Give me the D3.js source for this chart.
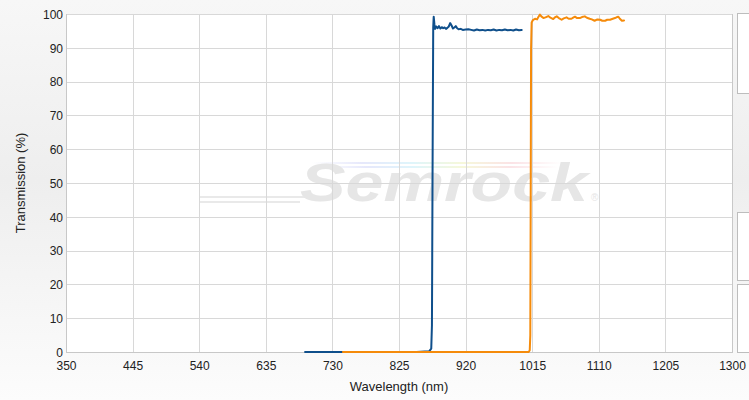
<!DOCTYPE html>
<html><head><meta charset="utf-8">
<script src="https://cdn.jsdelivr.net/npm/d3@7"></script>
<style>html,body{margin:0;padding:0;background:#fff;}svg{display:block;}</style>
</head><body><svg id="c" width="749" height="400"></svg>
<script>
const xTicks = [350,445,540,635,730,825,920,1015,1110,1205,1300];
const yTicks = [0,10,20,30,40,50,60,70,80,90,100];
const xTitle = "Wavelength (nm)";
const yTitle = "Transmission (%)";
const blueWl  = [691,760,850,868,871,872,873,873.8,874.5,875.5,876.5,878,880,882,884,886,888,890,892,894,896,898,900,902,904,906,908,910,913,916,920,924,928,932,936,940,944,948,952,956,960,964,968,972,976,980,984,988,992,996,1000];
const blueT   = [0,0,0,0.2,1,8,60,96,99.2,97,95.6,96.3,95.8,96.4,95.7,96.1,95.8,96.0,95.6,95.9,96.3,97.3,96.6,95.7,96.0,96.4,95.8,95.5,95.6,95.3,95.4,95.5,95.3,95.1,95.4,95.2,95.3,95.1,95.3,95.2,95.4,95.1,95.3,95.2,95.4,95.2,95.3,95.1,95.4,95.2,95.3];
const orangeWl = [745,900,1010,1011.5,1012.3,1012.8,1013.4,1014.2,1016,1019,1022,1024,1026,1028,1031,1034,1038,1041,1045,1048,1050,1053,1057,1060,1064,1067,1071,1074,1076,1079,1083,1086,1090,1093,1097,1100,1104,1108,1112,1115,1119,1122,1126,1130,1133,1136,1138,1140,1143,1146];
const orangeT  = [0,0,0,0.5,5,40,90,97.5,98.2,98.6,98.4,99.2,99.8,99.3,98.8,99.0,99.4,98.9,98.5,99.1,99.3,98.8,98.3,98.7,99.0,98.6,98.6,99.0,99.2,98.8,98.8,99.1,99.3,98.9,98.6,98.4,98.0,98.4,98.3,98.0,98.0,98.3,98.3,98.6,98.8,99.1,99.2,98.6,98.0,98.1];
const seriesColors = ["#0f4f8b","#f58b0b"];

const svg = d3.select("#c");
const W = 749, H = 400;
const m = {left:66, top:14, right:732, bottom:352};

const defs = svg.append("defs");
const bg = defs.append("linearGradient").attr("id","bg").attr("x1",0).attr("y1",0).attr("x2",0).attr("y2",1);
bg.append("stop").attr("offset","0").attr("stop-color","#f7f7f7");
bg.append("stop").attr("offset","0.45").attr("stop-color","#eeeeee");
bg.append("stop").attr("offset","1").attr("stop-color","#fcfcfc");
const rb = defs.append("linearGradient").attr("id","rb").attr("x1",0).attr("y1",0).attr("x2",1).attr("y2",0);
[["0","#ffffff"],["0.2","#e6e8fb"],["0.4","#dff5fb"],["0.6","#f6f8da"],["0.8","#fbe3e6"],["1","#ffffff"]].forEach(s=>rb.append("stop").attr("offset",s[0]).attr("stop-color",s[1]));

svg.append("rect").attr("width",W).attr("height",H).attr("fill","url(#bg)");
svg.append("rect").attr("x",m.left).attr("y",m.top).attr("width",m.right-m.left).attr("height",m.bottom-m.top).attr("fill","#fff");

// side panels
[[13,93],[212,280],[284,352]].forEach(([a,b])=>{
  svg.append("rect").attr("x",737.5).attr("y",a+0.5).attr("width",20).attr("height",b-a).attr("fill","#fff").attr("stroke","#bdbdbd");
});

const x = d3.scaleLinear().domain([350,1300]).range([m.left,m.right]);
const y = d3.scaleLinear().domain([0,100]).range([m.bottom,m.top]);

// watermark
const wm = svg.append("g");
wm.append("rect").attr("x",312).attr("y",162).attr("width",250).attr("height",2).attr("fill","url(#rb)");
wm.append("rect").attr("x",318).attr("y",166).attr("width",240).attr("height",2).attr("fill","url(#rb)");
wm.append("rect").attr("x",200).attr("y",196).attr("width",105).attr("height",2).attr("fill","#e9e9e9");
wm.append("rect").attr("x",200).attr("y",201).attr("width",100).attr("height",2).attr("fill","#e9e9e9");
wm.append("text").attr("x",300).attr("y",201).attr("textLength",288).attr("lengthAdjust","spacingAndGlyphs")
  .attr("font-family","Liberation Sans, Arial, sans-serif").attr("font-weight","bold").attr("font-style","italic")
  .attr("font-size",54).attr("fill","#e6e6e6").text("Semrock");
wm.append("text").attr("x",591).attr("y",201).attr("font-family","Liberation Sans, Arial, sans-serif")
  .attr("font-size",10).attr("fill","#e6e6e6").text("®");

// grid
const g = svg.append("g");
g.selectAll(".gy").data(yTicks).join("line").attr("x1",m.left).attr("x2",m.right)
  .attr("y1",d=>Math.round(y(d))+0.5).attr("y2",d=>Math.round(y(d))+0.5).attr("stroke","#d8d8d8");
g.selectAll(".gx").data(xTicks).join("line").attr("y1",m.top).attr("y2",m.bottom)
  .attr("x1",d=>Math.round(x(d))+0.5).attr("x2",d=>Math.round(x(d))+0.5).attr("stroke","#d8d8d8");
g.append("line").attr("x1",m.left+0.5).attr("x2",m.left+0.5).attr("y1",m.top).attr("y2",m.bottom).attr("stroke","#c8c8c8");
g.append("line").attr("x1",m.left).attr("x2",m.right+1).attr("y1",m.bottom+0.5).attr("y2",m.bottom+0.5).attr("stroke","#c8c8c8");
g.append("line").attr("x1",m.right+0.5).attr("x2",m.right+0.5).attr("y1",m.top).attr("y2",m.bottom).attr("stroke","#c8c8c8");

// axes labels
const font = "Liberation Sans, Arial, sans-serif";
const xAxis = d3.axisBottom(x).tickValues(xTicks).tickFormat(d3.format("d")).tickSize(0).tickPadding(0);
const xa = svg.append("g").attr("transform",`translate(0,${m.bottom})`).call(xAxis);
xa.select(".domain").remove();
xa.selectAll("text").attr("y",18).attr("dy",0).attr("font-family",font).attr("font-size",12).attr("fill","#222");
const yAxis = d3.axisLeft(y).tickValues(yTicks).tickFormat(d3.format("d")).tickSize(0).tickPadding(0);
const ya = svg.append("g").attr("transform",`translate(${m.left-3},0)`).call(yAxis);
ya.select(".domain").remove();
ya.selectAll("text").attr("x",0).attr("dy","0.35em").attr("font-family",font).attr("font-size",12).attr("fill","#222");

svg.append("text").attr("x",(m.left+m.right)/2).attr("y",391).attr("text-anchor","middle")
  .attr("font-family",font).attr("font-size",13).attr("fill","#222").text(xTitle);
svg.append("text").attr("transform",`translate(25,${(m.top+m.bottom)/2}) rotate(-90)`).attr("text-anchor","middle")
  .attr("font-family",font).attr("font-size",13).attr("fill","#222").text(yTitle);

// series
const line = d3.line().x(d=>x(d[0])).y(d=>y(d[1]));
const series = [d3.zip(blueWl,blueT), d3.zip(orangeWl,orangeT)];
series.forEach((s,i)=>{
  svg.append("path").datum(s).attr("d",line).attr("fill","none").attr("stroke",seriesColors[i])
    .attr("stroke-width",2).attr("stroke-linejoin","round").attr("stroke-linecap","round");
});
</script></body></html>
